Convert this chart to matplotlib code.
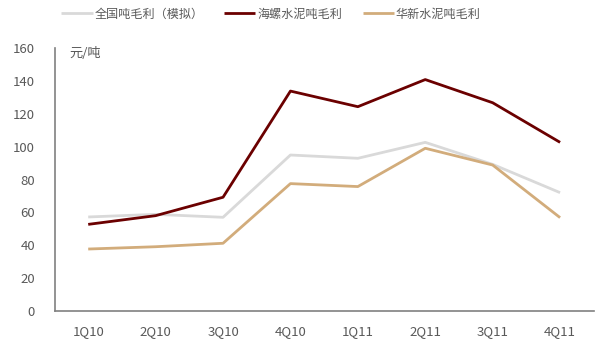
import matplotlib
matplotlib.use("Agg")
import matplotlib.pyplot as plt

plt.rcParams['font.family'] = ['Noto Sans CJK SC', 'DejaVu Sans']

categories = ['1Q10', '2Q10', '3Q10', '4Q10', '1Q11', '2Q11', '3Q11', '4Q11']
national = [57.2, 58.8, 57.0, 94.9, 92.9, 102.6, 89.2, 72.0]
conch = [52.7, 58.0, 69.2, 133.8, 124.3, 140.8, 126.7, 102.6]
huaxin = [37.7, 39.1, 41.2, 77.5, 75.7, 99.0, 88.8, 56.8]
yticks = [0, 20, 40, 60, 80, 100, 120, 140, 160]

fig = plt.figure(figsize=(6.01, 3.53), dpi=100)
ax = fig.add_axes([0.0907, 0.119, 0.8973, 0.745])
x = list(range(len(categories)))
l1, = ax.plot(x, national, color='#D9D9D9', lw=2.0, label='全国吨毛利（模拟）', solid_capstyle='butt')
l2, = ax.plot(x, conch, color='#6B0000', lw=2.0, label='海螺水泥吨毛利', solid_capstyle='butt')
l3, = ax.plot(x, huaxin, color='#D2AC7B', lw=2.0, label='华新水泥吨毛利', solid_capstyle='butt')

ax.set_xlim(-0.5, len(categories) - 0.5)
ax.set_ylim(0, 160)
ax.set_xticks(x)
ax.set_xticklabels(categories)
ax.set_yticks(yticks)
for s in ['top', 'right']:
    ax.spines[s].set_visible(False)
for s in ['left', 'bottom']:
    ax.spines[s].set_color('#808080')
    ax.spines[s].set_linewidth(1.2)
ax.tick_params(axis='both', length=0, labelsize=9.5, colors='#595959')
ax.tick_params(axis='x', pad=10)
ax.tick_params(axis='y', pad=14)

ax.text(0.028, 1.005, '元/吨', transform=ax.transAxes, fontsize=9.5, color='#595959', va='top', ha='left')

leg = fig.legend(handles=[l1, l2, l3], loc='center', bbox_to_anchor=(271/601, 1 - 14/353),
                 ncol=3, frameon=False, fontsize=8.7, handlelength=2.6, handletextpad=0.15,
                 columnspacing=1.7, labelcolor='#595959')

fig.savefig('out.png', dpi=100)
